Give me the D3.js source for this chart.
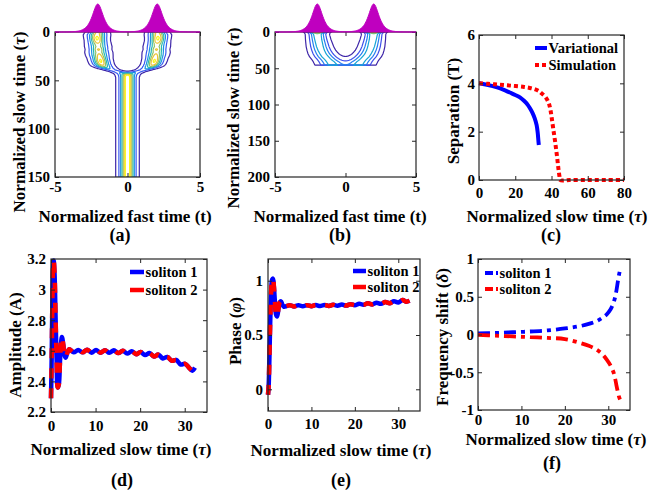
<!DOCTYPE html>
<html>
<head>
<meta charset="utf-8">
<script src="https://cdn.jsdelivr.net/npm/d3@7"></script>
<style>
  body { margin: 0; background: #fff; }
  svg text { font-family: "Liberation Serif", "Times New Roman", serif; font-weight: bold; fill: #000; }
  .tick text { font-size: 15px; }
  .tick line { stroke: #262626; }
</style>
</head>
<body>
<svg id="fig" width="652" height="495"></svg>
<script>
// ---------------- data ----------------
// (a) pulse track through the collision: centre (±), peak and width vs slow time
const trackTauA    = [0, 3, 6, 9, 12, 15, 18, 21, 24, 27, 30, 33, 35, 37, 39, 41, 43, 45, 47, 150];
const trackCenterA = [2.05, 2.1, 2.1, 2.08, 2.05, 2.02, 2.0, 1.98, 1.95, 1.9, 1.85, 1.78, 1.68, 1.48, 1.15, 0.7, 0.3, 0.05, 0, 0];
const trackAmpA    = [0.85, 0.92, 1.0, 0.95, 0.8, 0.74, 0.84, 0.78, 0.86, 0.94, 0.99, 0.93, 0.75, 0.5, 0.33, 0.32, 0.42, 0.52, 0.55, 0.55];
const trackWidthA  = [0.33, 0.35, 0.33, 0.33, 0.36, 0.38, 0.35, 0.38, 0.36, 0.33, 0.32, 0.32, 0.34, 0.36, 0.36, 0.34, 0.32, 0.3, 0.28, 0.28];
const levelsA = [0.12, 0.26, 0.40, 0.54, 0.68, 0.82, 0.96];

// (b) pulse track, computed up to tau = 45.5
const trackTauB    = [0, 1, 2.5, 5, 10, 15, 20, 25, 30, 34, 38, 41, 45.5];
const trackCenterB = [2.0, 2.0, 2.0, 1.98, 1.94, 1.88, 1.82, 1.73, 1.6, 1.45, 1.25, 1.1, 0.95];
const trackAmpB    = [1.0, 0.7, 0.52, 0.5, 0.48, 0.47, 0.46, 0.45, 0.44, 0.44, 0.43, 0.43, 0.42];
const trackWidthB  = [0.33, 0.35, 0.37, 0.38, 0.4, 0.42, 0.44, 0.46, 0.49, 0.51, 0.53, 0.55, 0.57];
const levelsB = [0.1, 0.2, 0.3, 0.4, 0.55, 0.7, 0.85];

// (c) separation
const sepTauVar = [0, 5, 10, 13.4, 17, 20, 22.6, 25, 27, 28.2, 29.5, 30.7, 31.8, 32.4, 32.8, 33];
const sepVar    = [4.0, 3.93, 3.83, 3.74, 3.62, 3.52, 3.42, 3.27, 3.1, 2.96, 2.78, 2.56, 2.27, 1.95, 1.6, 1.45];
const sepTauSim = [0, 5, 10, 15, 20, 25, 28, 31, 33, 34.6, 36.5, 38.3, 39.3, 40.1, 41, 42, 43, 43.8, 44.4, 44.8, 50, 60, 70, 80];
const sepSim    = [4.0, 3.98, 3.95, 3.92, 3.89, 3.85, 3.81, 3.75, 3.68, 3.58, 3.45, 3.22, 2.95, 2.58, 2.1, 1.58, 1.0, 0.48, 0.15, 0, 0, 0, 0, 0];

// (d) amplitude
const ampTau  = [0, 0.15, 0.3, 0.45, 0.6, 0.8, 1.0, 1.25, 1.5, 1.75, 2.0, 2.2, 2.45, 2.75, 3.05, 3.3, 3.7, 4.1,
                 5.1, 6.1, 7.1, 8.1, 9.1, 10.1, 11.1, 12.1, 13.1, 14.1, 15.1, 16.1, 17.1, 18.1, 19.1, 20.1,
                 21.1, 22.1, 23.1, 24.1, 25.1, 26.1, 27.1, 28.1, 29.1, 30.1, 31.1, 31.7, 32.3];
const ampSol1 = [2.29, 2.55, 2.9, 3.13, 3.19, 3.1, 2.85, 2.55, 2.36, 2.38, 2.52, 2.63, 2.69, 2.64, 2.57, 2.555, 2.59, 2.61,
                 2.59, 2.605, 2.59, 2.607, 2.588, 2.605, 2.588, 2.604, 2.587, 2.603, 2.585, 2.6, 2.582, 2.597, 2.578, 2.592,
                 2.572, 2.585, 2.562, 2.575, 2.55, 2.56, 2.535, 2.54, 2.51, 2.515, 2.485, 2.47, 2.49];
const ampSol2 = ampSol1; // the two solitons keep equal amplitudes

// (e) phase
const phaseTau  = [0, 0.15, 0.3, 0.45, 0.6, 0.75, 0.95, 1.15, 1.35, 1.6, 1.85, 2.1, 2.4, 2.7, 3.0, 3.3, 3.7, 4.2,
                   5, 6, 7, 8, 9, 10, 11, 12, 13, 14, 15, 16, 17, 18, 19, 20, 21, 22, 23, 24, 25, 26, 27, 28, 29, 30, 31, 31.8, 32.6];
const phaseSol1 = [-0.05, 0.03, 0.25, 0.52, 0.76, 0.92, 1.01, 1.02, 0.95, 0.8, 0.69, 0.67, 0.74, 0.8, 0.81, 0.78, 0.76, 0.765,
                   0.775, 0.763, 0.775, 0.764, 0.775, 0.765, 0.776, 0.766, 0.777, 0.767, 0.779, 0.769, 0.781, 0.771, 0.784, 0.774,
                   0.788, 0.778, 0.792, 0.782, 0.797, 0.787, 0.803, 0.793, 0.81, 0.8, 0.822, 0.807, 0.815];
const phaseSol2 = phaseSol1;

// (f) frequency shift
const freqTau  = [0, 4, 8, 12, 16, 20, 23.4, 25.5, 27.3, 28.6, 29.6, 30.5, 31.2, 31.6, 31.9, 32.2, 32.5, 32.7];
const freqSol1 = [0.015, 0.02, 0.03, 0.04, 0.055, 0.08, 0.11, 0.14, 0.176, 0.22, 0.264, 0.33, 0.42, 0.5, 0.59, 0.7, 0.8, 0.85];
const freqSol2 = [-0.005, -0.015, -0.025, -0.035, -0.045, -0.06, -0.11, -0.15, -0.2, -0.26, -0.33, -0.41, -0.5, -0.59, -0.68, -0.76, -0.83, -0.86];

// ---------------- helpers ----------------
const svg = d3.select("#fig");
const parula = d3.interpolateRgbBasis(["#3e26a8", "#4743e6", "#3166fa", "#1f8bee", "#12a6d8", "#1fbcb2", "#5dc585", "#a9c357", "#e6ba3d", "#fbd52b", "#f9f718"]);
const fmt = d => String(Math.round(d * 10) / 10);
const BLUE = "#0000ff", RED = "#ff0000", MAGENTA = "#bf00bf";

function panel(p) {
  const x = d3.scaleLinear(p.xDomain, [p.left, p.right]);
  const y = d3.scaleLinear(p.yDomain, p.yFlip ? [p.top, p.bottom] : [p.bottom, p.top]);
  const g = svg.append("g");
  const id = "clip-" + p.name;
  svg.append("clipPath").attr("id", id).append("rect")
    .attr("x", p.left).attr("y", p.top).attr("width", p.right - p.left).attr("height", p.bottom - p.top);
  const plot = g.append("g");
  if (p.clip) plot.attr("clip-path", `url(#${id})`);
  return Object.assign({}, p, { x, y, g, plot });
}

function axes(P) {
  const g = P.g.append("g");
  const strip = a => { a.select(".domain").remove(); a.attr("font-size", null).attr("font-family", null).style("color", "#262626"); };
  g.append("g").attr("transform", `translate(0,${P.bottom})`)
    .call(d3.axisBottom(P.x).tickValues(P.xTicks).tickFormat(fmt).tickSize(-4).tickPadding(P.padX)).call(strip);
  g.append("g").attr("transform", `translate(0,${P.top})`)
    .call(d3.axisTop(P.x).tickValues(P.xTicks).tickFormat("").tickSize(-4)).call(strip);
  g.append("g").attr("transform", `translate(${P.left},0)`)
    .call(d3.axisLeft(P.y).tickValues(P.yTicks).tickFormat(fmt).tickSize(-4).tickPadding(P.padY)).call(strip);
  g.append("g").attr("transform", `translate(${P.right},0)`)
    .call(d3.axisRight(P.y).tickValues(P.yTicks).tickFormat("").tickSize(-4)).call(strip);
  g.append("rect").attr("x", P.left).attr("y", P.top)
    .attr("width", P.right - P.left).attr("height", P.bottom - P.top)
    .attr("fill", "none").attr("stroke", "#262626").attr("stroke-width", 1.2);
}

function label(x, y, parts, size, rotate) {
  const t = svg.append("text").attr("font-size", size).attr("text-anchor", "middle")
    .attr("dominant-baseline", "central")
    .attr("transform", `translate(${x},${y})` + (rotate ? " rotate(-90)" : ""));
  parts.forEach(([s, it]) => t.append("tspan").text(s).attr("font-style", it ? "italic" : null));
}

// field of two sech pulses following a track
function buildField(tau, cen, amp, wid, tMin, tMax, dt, tauMax, dTau) {
  const c = d3.scaleLinear(tau, cen).clamp(true);
  const a = d3.scaleLinear(tau, amp).clamp(true);
  const w = d3.scaleLinear(tau, wid).clamp(true);
  const nx = Math.round((tMax - tMin) / dt) + 1;
  const ny = Math.round(tauMax / dTau) + 1;
  const values = new Float64Array(nx * ny);
  for (let j = 0; j < ny; j++) {
    const s = j * dTau, cc = c(s), aa = a(s), ww = w(s);
    for (let i = 0; i < nx; i++) {
      const t = tMin + i * dt;
      values[j * nx + i] = aa / Math.cosh((t - cc) / ww) + aa / Math.cosh((t + cc) / ww);
    }
  }
  return { values, nx, ny, tMin, dt, dTau };
}

function drawContours(P, F, levels) {
  const cs = d3.contours().size([F.nx, F.ny]).thresholds(levels)(F.values);
  const proj = d3.geoTransform({
    point: function (gx, gy) { this.stream.point(P.x(F.tMin + (gx - 0.5) * F.dt), P.y((gy - 0.5) * F.dTau)); }
  });
  const path = d3.geoPath(proj);
  const lo = levels[0], hi = levels[levels.length - 1];
  P.plot.selectAll("path.contour").data(cs).join("path").attr("class", "contour")
    .attr("d", path).attr("fill", "none")
    .attr("stroke", d => parula((d.value - lo) / (hi - lo)))
    .attr("stroke-width", 1.2).attr("stroke-linejoin", "round");
}

function drawHump(P, F) {
  const row = Array.from({ length: F.nx }, (_, i) => [F.tMin + i * F.dt, F.values[i]]);
  const hy = d3.scaleLinear([0, d3.max(row, d => d[1])], [P.top, P.top - 28]);
  P.g.append("path").datum(row)
    .attr("d", d3.area().x(d => P.x(d[0])).y0(P.top).y1(d => hy(d[1])))
    .attr("fill", MAGENTA).attr("stroke", MAGENTA).attr("stroke-width", 1);
}

function drawLine(P, xs, ys, color, width, dash) {
  P.plot.append("path").datum(xs.map((v, i) => [v, ys[i]]))
    .attr("d", d3.line().x(d => P.x(d[0])).y(d => P.y(d[1])).curve(d3.curveCatmullRom.alpha(0.5)))
    .attr("fill", "none").attr("stroke", color).attr("stroke-width", width)
    .attr("stroke-dasharray", dash || null).attr("stroke-linecap", "butt").attr("stroke-linejoin", "round");
}

function legendItem(x0, x1, y, text, color, width, dash) {
  svg.append("line").attr("x1", x0).attr("x2", x1).attr("y1", y).attr("y2", y)
    .attr("stroke", color).attr("stroke-width", width).attr("stroke-dasharray", dash || null);
  svg.append("text").attr("x", x1 + 1.5).attr("y", y).attr("dominant-baseline", "central")
    .attr("font-size", 14.5).text(text);
}

const slowTime = [["Normalized slow time (", false], ["\u03c4", true], [")", false]];
const fastTime = [["Normalized fast time (t)", false]];

// ---------------- (a) ----------------
const PA = panel({ name: "a", left: 55, right: 200, top: 32, bottom: 177, xDomain: [-5, 5], yDomain: [0, 150], yFlip: true,
  xTicks: [-5, 0, 5], yTicks: [0, 50, 100, 150], padX: 4, padY: 5, clip: true });
const FA = buildField(trackTauA, trackCenterA, trackAmpA, trackWidthA, -5, 5, 0.05, 150, 0.5);
drawContours(PA, FA, levelsA);
axes(PA);
drawHump(PA, FA);
label(125, 216, fastTime, 17);
label(19, 122, slowTime, 17, true);
label(120, 235, [["(a)", false]], 18);

// ---------------- (b) ----------------
const PB = panel({ name: "b", left: 275, right: 416, top: 32, bottom: 177, xDomain: [-5, 5], yDomain: [0, 200], yFlip: true,
  xTicks: [-5, 0, 5], yTicks: [0, 50, 100, 150, 200], padX: 4, padY: 5, clip: true });
const FB = buildField(trackTauB, trackCenterB, trackAmpB, trackWidthB, -5, 5, 0.05, 45.5, 0.25);
drawContours(PB, FB, levelsB);
axes(PB);
drawHump(PB, FB);
label(340, 216, fastTime, 17);
label(233, 118, slowTime, 17, true);
label(340, 235, [["(b)", false]], 18);

// ---------------- (c) ----------------
const PC = panel({ name: "c", left: 479, right: 624, top: 35, bottom: 180, xDomain: [0, 80], yDomain: [0, 6],
  xTicks: [0, 20, 40, 60, 80], yTicks: [0, 2, 4, 6], padX: 7, padY: 4 });
drawLine(PC, sepTauVar, sepVar, BLUE, 4);
drawLine(PC, sepTauSim, sepSim, RED, 4, "4,3");
axes(PC);
legendItem(535, 547, 48, "Variational", BLUE, 4);
legendItem(535, 547, 65, "Simulation", RED, 4, "4,3");
label(557, 216, slowTime, 17);
label(453, 111, [["Separation (T)", false]], 17, true);
label(551, 235, [["(c)", false]], 18);

// ---------------- (d) ----------------
const PD = panel({ name: "d", left: 51, right: 207, top: 259, bottom: 412, xDomain: [0, 35], yDomain: [2.2, 3.2],
  xTicks: [0, 10, 20, 30], yTicks: [2.2, 2.4, 2.6, 2.8, 3, 3.2], padX: 8, padY: 5 });
drawLine(PD, ampTau, ampSol1, BLUE, 4.5);
drawLine(PD, ampTau, ampSol2, RED, 4.5, "10,10");
axes(PD);
legendItem(130, 144, 272, "soliton 1", BLUE, 4.5);
legendItem(130, 144, 290, "soliton 2", RED, 4.5);
label(121, 449, slowTime, 17);
label(15, 345, [["Amplitude (A)", false]], 17, true);
label(122, 480, [["(d)", false]], 18);

// ---------------- (e) ----------------
const PE = panel({ name: "e", left: 268, right: 420, top: 259, bottom: 411, xDomain: [0, 35], yDomain: [-0.2, 1.2],
  xTicks: [0, 10, 20, 30], yTicks: [0, 0.5, 1], padX: 7, padY: 5 });
drawLine(PE, phaseTau, phaseSol1, BLUE, 4.5);
drawLine(PE, phaseTau, phaseSol2, RED, 4.5, "10,10");
axes(PE);
legendItem(353, 366, 271, "soliton 1", BLUE, 4.5);
legendItem(353, 366, 287, "soliton 2", RED, 4.5);
label(341, 450, slowTime, 17);
label(235, 331, [["Phase (", false], ["\u03c6", true], [")", false]], 17, true);
label(341, 480, [["(e)", false]], 18);

// ---------------- (f) ----------------
const PF = panel({ name: "f", left: 478, right: 630, top: 259, bottom: 410, xDomain: [0, 35], yDomain: [-1, 1],
  xTicks: [0, 10, 20, 30], yTicks: [-1, -0.5, 0, 0.5, 1], padX: 4, padY: 4 });
drawLine(PF, freqTau, freqSol1, BLUE, 3.8, "12,5,4,5");
drawLine(PF, freqTau, freqSol2, RED, 3.8, "12,5,4,5");
axes(PF);
legendItem(485, 498, 273, "soliton 1", BLUE, 3.8, "8,3");
legendItem(485, 498, 289, "soliton 2", RED, 3.8, "8,3");
label(556, 439, slowTime, 17);
label(442, 337, [["Frequency shift (", false], ["\u03b4", true], [")", false]], 17, true);
label(552, 463, [["(f)", false]], 18);
</script>
</body>
</html>
